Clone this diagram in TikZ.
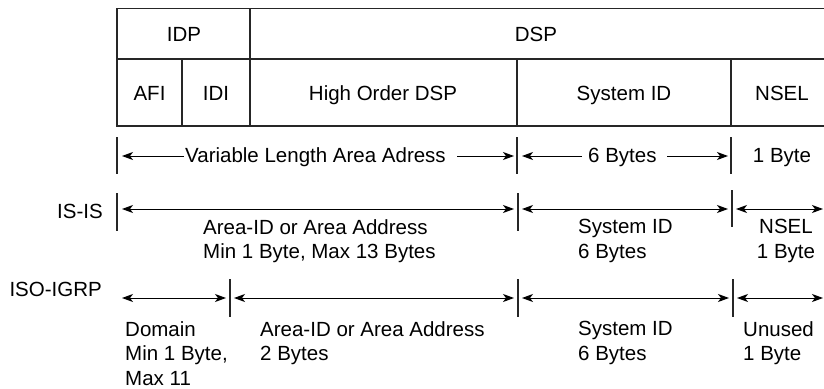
\documentclass[tikz,border=0pt]{standalone}
\usepackage{fontspec}
\setmainfont{Liberation Sans}
\usetikzlibrary{arrows.meta}
\begin{document}
\begin{tikzpicture}[x=1pt,y=-1pt,
  every node/.style={font=\fontsize{20.5}{24.5}\selectfont, inner sep=0pt},
  tbl/.style={line width=1.1pt, draw=black!85},
  tick/.style={line width=1.1pt, draw=black!85},
  arr/.style={line width=1pt, -{Stealth[length=11pt,width=8pt,inset=3pt]}},
  darr/.style={line width=1pt, {Stealth[length=11pt,width=8pt,inset=3pt]}-{Stealth[length=11pt,width=8pt,inset=3pt]}},
  lt/.style={anchor=north west, align=left},
  ct/.style={anchor=north, align=center},
  lbl/.style={anchor=base east}]
\useasboundingbox (0,0) rectangle (824,388);

% ---------- table ----------
\draw[tbl] (826,8.7) -- (117,8.7) -- (117,126) -- (826,126);
\draw[tbl] (117,59) -- (826,59);
\draw[tbl] (250,8.7) -- (250,126);
\draw[tbl] (182,59) -- (182,126);
\draw[tbl] (517,59) -- (517,126);
\draw[tbl] (731,59) -- (731,126);

\node[anchor=base] (idp) at (184,41) {IDP};
\node[anchor=base] (dsp) at (536,41) {DSP};
\node[anchor=base] (afi) at (149.5,100) {AFI};
\node[anchor=base] (idi) at (216,100) {IDI};
\node[anchor=base] (hod) at (383,100) {High Order DSP};
\node[anchor=base] (sid) at (624,100) {System ID};
\node[anchor=base] (nsel) at (782,100) {NSEL};

% ---------- row: lengths ----------
\draw[tick] (117,137) -- (117,174);
\draw[tick] (517,137) -- (517,174);
\draw[tick] (731,137) -- (731,174);
\node[anchor=base west] (varl) at (185,162) {Variable Length Area Adress};
\coordinate (v1) at (184,156);
\coordinate (v2) at (122,156);
\coordinate (v3) at (457,156);
\coordinate (v4) at (514,156);
\draw[arr] (v1) -- (v2);
\draw[arr] (v3) -- (v4);
\node[anchor=base west] (six) at (588,162) {6 Bytes};
\coordinate (s1) at (582,156);
\coordinate (s2) at (522,156);
\coordinate (s3) at (667,156);
\coordinate (s4) at (728,156);
\draw[arr] (s1) -- (s2);
\draw[arr] (s3) -- (s4);
\node[anchor=base] (oneb) at (782,162) {1 Byte};

% ---------- IS-IS ----------
\node[lbl] (isis) at (103,218) {IS-IS};
\draw[tick] (117,193) -- (117,231);
\draw[tick] (518,193) -- (518,231);
\draw[tick] (732,190) -- (732,227);
\coordinate (i1) at (122,209);
\coordinate (i2) at (514,209);
\coordinate (i3) at (522,209);
\coordinate (i4) at (728,209);
\coordinate (i5) at (736,209);
\coordinate (i6) at (823,209);
\draw[darr] (i1) -- (i2);
\draw[darr] (i3) -- (i4);
\draw[darr] (i5) -- (i6);
\node[lt] (isa) at (203,219) {Area-ID or Area Address\\Min 1 Byte, Max 13 Bytes};
\node[lt] (iss) at (578,219) {System ID\\6 Bytes};
\node[ct] (isn) at (786,219) {NSEL\\1 Byte};

% ---------- ISO-IGRP ----------
\node[lbl] (igrp) at (102,296) {ISO-IGRP};
\draw[tick] (230,279) -- (230,317);
\draw[tick] (518,279) -- (518,317);
\draw[tick] (733,279) -- (733,317);
\coordinate (g1) at (122,298);
\coordinate (g2) at (226,298);
\coordinate (g3) at (234,298);
\coordinate (g4) at (514,298);
\coordinate (g5) at (522,298);
\coordinate (g6) at (729,298);
\coordinate (g7) at (737,298);
\coordinate (g8) at (823,298);
\draw[darr] (g1) -- (g2);
\draw[darr] (g3) -- (g4);
\draw[darr] (g5) -- (g6);
\draw[darr] (g7) -- (g8);
\node[lt] (gd) at (125,321) {Domain\\Min 1 Byte,\\Max 11};
\node[lt] (ga) at (260,321) {Area-ID or Area Address\\2 Bytes};
\node[lt] (gs) at (578,321) {System ID\\6 Bytes};
\node[lt] (gu) at (743,321) {Unused\\1 Byte};
\end{tikzpicture}
\end{document}
